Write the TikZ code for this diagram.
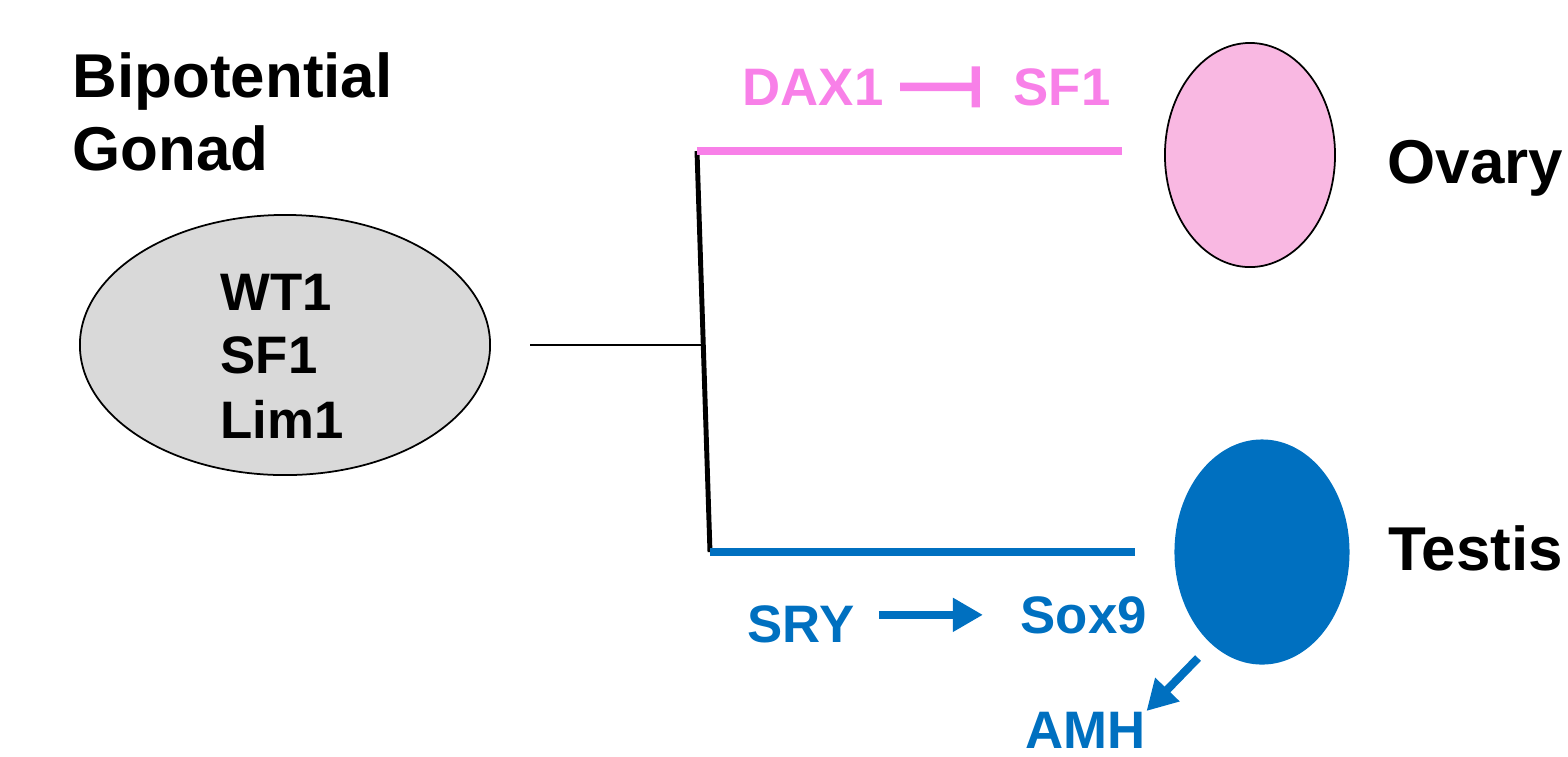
\documentclass[tikz,border=0pt]{standalone}
\usepackage{fontspec}
\setmainfont{Liberation Sans}
\usetikzlibrary{shapes.geometric,arrows.meta}
\definecolor{ovpink}{RGB}{248,128,232}
\definecolor{ovfill}{RGB}{249,184,226}
\definecolor{tsblue}{RGB}{0,112,192}
\definecolor{gonadgray}{RGB}{217,217,217}
\tikzset{
  organ/.style={font=\bfseries\fontsize{17.6}{21}\selectfont, inner sep=0pt, anchor=base west},
  gene/.style={font=\bfseries\fontsize{15}{18}\selectfont, inner sep=0pt, anchor=base west},
  blob/.style={ellipse, inner sep=0pt},
  fwd/.style={-{Triangle[length=0.3cm,width=0.32cm]}},
}

\begin{document}
\begin{tikzpicture}[x=0.01cm,y=-0.01cm]
  \useasboundingbox (0,0) rectangle (1568,756);
  % bipotential gonad with its genes
  \node[organ] (bip) at (72,97) {Bipotential};
  \node[organ] (gon) at (72,170) {Gonad};
  \node[blob, draw, line width=0.5pt, fill=gonadgray, minimum width=4.1cm, minimum height=2.6cm] (gonad) at (285,345) {};
  \foreach \g/\y in {WT1/310, SF1/373, Lim1/438}
    \node[gene] (g-\g) at (220,\y) {\g};
  % fork into the two fates
  \coordinate (stem) at (530,345);
  \coordinate (fork) at (703,345);
  \coordinate (ovtop) at (697,151);
  \coordinate (tebot) at (710,552);
  \coordinate (ovend) at (1122,151);
  \coordinate (teend) at (1135,552);
  \draw[line width=0.5pt] (stem) -- (fork);
  \draw[line width=1.4pt] (ovtop) -- (tebot);
  \draw[ovpink, line width=2.5pt] (ovtop) -- (ovend);
  \draw[tsblue, line width=2.5pt] (tebot) -- (teend);
  % ovary branch: DAX1 -| SF1
  \node[gene, ovpink] (dax) at (742,105) {DAX1};
  \node[gene, ovpink] (sfo) at (1013,105) {SF1};
  \draw[ovpink, line width=2.4pt, -{Bar[width=0.41cm]}, shorten <=0.16cm, shorten >=0.33cm] (dax.east) -- (sfo.west);
  \node[blob, draw, line width=0.5pt, fill=ovfill, minimum width=1.7cm, minimum height=2.24cm] (ovary) at (1250,155) {};
  \node[organ] (ovlbl) at (1387,183) {Ovary};
  % testis branch: SRY -> Sox9, testis -> AMH
  \node[gene, tsblue] (sry) at (747,642) {SRY};
  \node[gene, tsblue] (sox) at (1020,633) {Sox9};
  \draw[tsblue, line width=2.3pt, fwd, shorten <=0.24cm, shorten >=0.37cm] (sry.east |- sox.west) -- (sox.west);
  \node[blob, fill=tsblue, minimum width=1.75cm, minimum height=2.25cm] (testis) at (1262,552) {};
  \node[organ] (telbl) at (1388,570) {Testis};
  \node[gene, tsblue] (amh) at (1025,748) {AMH};
  \coordinate (amhfrom) at (1198,658);
  \draw[tsblue, line width=2.3pt, fwd] (amhfrom) -- (amh.north east);
\end{tikzpicture}
\end{document}
